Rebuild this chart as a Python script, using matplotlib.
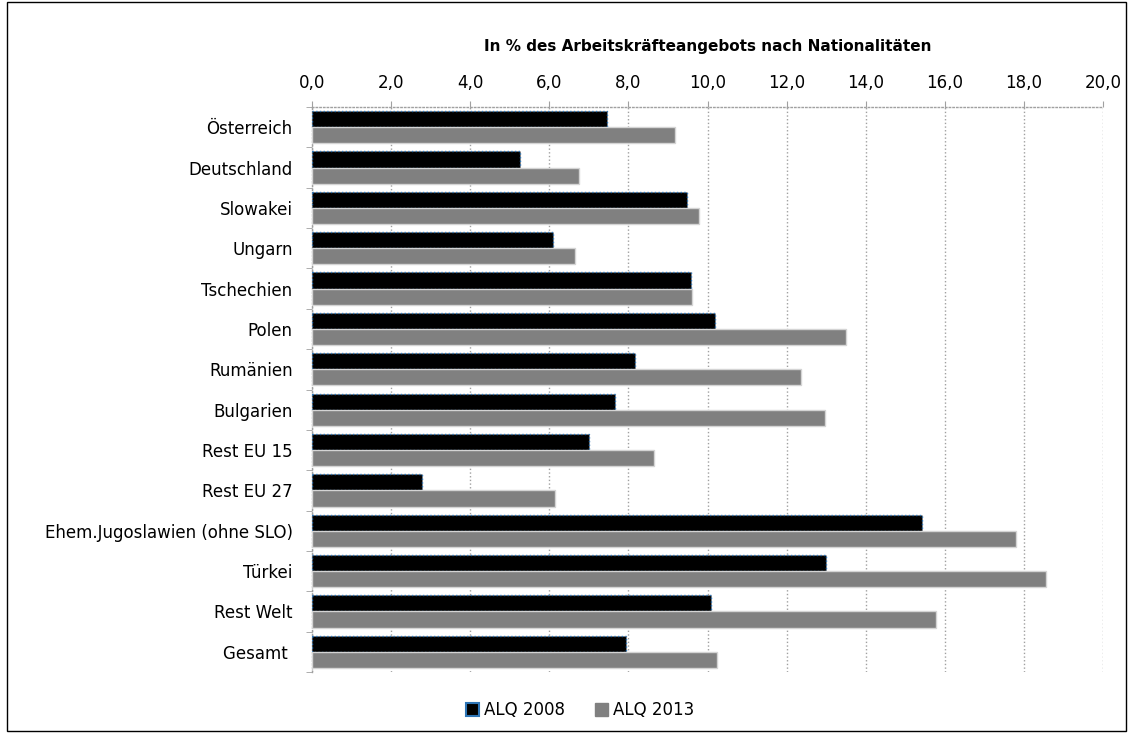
import numpy as np
import matplotlib
matplotlib.use("Agg")
import matplotlib.pyplot as plt
import matplotlib.ticker as ticker
from matplotlib.patches import Rectangle, Patch

plt.rcParams['font.family'] = ['DejaVu Sans']

# data
laender = ['Österreich', 'Deutschland', 'Slowakei', 'Ungarn', 'Tschechien', 'Polen',
           'Rumänien', 'Bulgarien', 'Rest EU 15', 'Rest EU 27',
           'Ehem.Jugoslawien (ohne SLO)', 'Türkei', 'Rest Welt', 'Gesamt ']
alq_2008 = [7.45, 5.25, 9.47, 6.10, 9.58, 10.18, 8.16, 7.65, 7.00, 2.78, 15.43, 13.0, 10.09, 7.93]
alq_2013 = [9.17, 6.76, 9.78, 6.66, 9.61, 13.49, 12.36, 12.98, 8.65, 6.15, 17.80, 18.56, 15.78, 10.23]
x_ticks = np.arange(0, 21, 2)

fig = plt.figure(figsize=(11.33, 7.33), dpi=100)
ax = fig.add_axes([0.2754, 0.0832, 0.6981, 0.7708])

y = np.arange(len(laender))
h = 0.4
ax.barh(y - h / 2, alq_2008, height=h, color='black', edgecolor='#2e75b6',
        linestyle=':', linewidth=1, label='ALQ 2008', zorder=3)
ax.barh(y + h / 2, alq_2013, height=h, color='#808080', edgecolor='#d4d4d4',
        linewidth=1, label='ALQ 2013', zorder=3)

ax.set_ylim(len(laender) - 0.5, -0.5)
ax.set_xlim(0, 20)
ax.set_yticks(y)
ax.set_yticklabels(laender, fontsize=12)
ax.set_yticks(np.arange(-0.5, len(laender), 1), minor=True)
ax.tick_params(axis='y', which='major', length=0, pad=14)
ax.tick_params(axis='y', which='minor', length=4, color='#a0a0a0', direction='out')

ax.xaxis.tick_top()
ax.set_xticks(x_ticks)
ax.xaxis.set_major_formatter(ticker.FuncFormatter(lambda v, p: f'{v:.1f}'.replace('.', ',')))
ax.tick_params(axis='x', labelsize=12, length=4, color='#a0a0a0', pad=7)
ax.grid(axis='x', color='#a0a0a0', linestyle=':', linewidth=1, zorder=0)

for s in ['right', 'bottom']:
    ax.spines[s].set_visible(False)
for s in ['top', 'left']:
    ax.spines[s].set_color('#a0a0a0')
    ax.spines[s].set_linestyle(':')
    ax.spines[s].set_linewidth(1)

ax.set_title('In % des Arbeitskräfteangebots nach Nationalitäten', fontsize=11,
             fontweight='bold', pad=40)

handles = [Patch(facecolor='black', edgecolor='#2e75b6', linewidth=1.5, label='ALQ 2008'),
           Patch(facecolor='#808080', edgecolor='#808080', label='ALQ 2013')]
fig.legend(handles=handles, loc='center', bbox_to_anchor=(0.512, 0.031), ncol=2,
           frameon=False, fontsize=12, handlelength=0.8, handleheight=0.8,
           handletextpad=0.3, columnspacing=1.8)

fig.patches.append(Rectangle((0.006, 0.003), 0.988, 0.994, transform=fig.transFigure,
                             fill=False, edgecolor='black', linewidth=1))

fig.savefig('out.png', dpi=100)
